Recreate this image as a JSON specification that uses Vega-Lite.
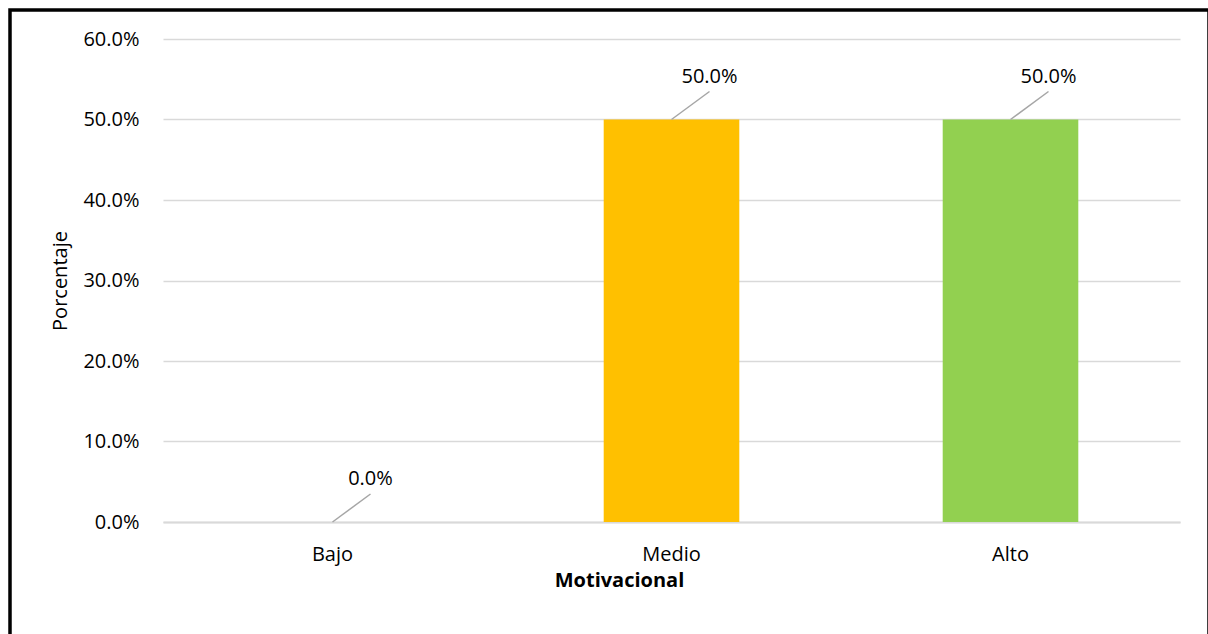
{
  "$schema": "https://vega.github.io/schema/vega-lite/v6.json",
  "width": 1199,
  "height": 630,
  "autosize": {"type": "none"},
  "padding": {"left": 10, "top": 10, "right": 0, "bottom": 0},
  "background": "white",
  "config": {
    "view": {"stroke": "#000000", "strokeWidth": 3.5},
    "font": "Open Sans",
    "axis": {
      "labelFont": "Open Sans",
      "titleFont": "Open Sans",
      "labelFontSize": 20,
      "titleFontSize": 20,
      "labelColor": "#000000",
      "titleColor": "#000000",
      "ticks": false
    }
  },
  "data": {
    "values": [
      {"nivel": "Bajo", "pct": 0.0},
      {"nivel": "Medio", "pct": 0.5},
      {"nivel": "Alto", "pct": 0.5}
    ]
  },
  "encoding": {
    "x": {
      "field": "nivel",
      "type": "nominal",
      "sort": ["Bajo", "Medio", "Alto"],
      "scale": {"paddingInner": 0.6, "paddingOuter": 0.3, "range": [153, 1170]},
      "title": "Motivacional",
      "axis": {
        "labelAngle": 0,
        "labelPadding": 22,
        "offset": -118,
        "titleFontWeight": "bold",
        "titlePadding": 6,
        "titleX": 609,
        "domainColor": "#d9d9d9",
        "domainWidth": 2,
        "grid": false
      }
    },
    "y": {
      "field": "pct",
      "type": "quantitative",
      "scale": {"domain": [0, 0.6], "range": [512, 29]},
      "title": "Porcentaje",
      "axis": {
        "format": ".1%",
        "values": [0, 0.1, 0.2, 0.3, 0.4, 0.5, 0.6],
        "labelPadding": 24,
        "titlePadding": 12,
        "offset": -153,
        "titleFontWeight": "normal",
        "domain": false,
        "gridColor": "#d9d9d9",
        "gridWidth": 1.5
      }
    }
  },
  "layer": [
    {
      "mark": {"type": "bar"},
      "encoding": {
        "color": {
          "field": "nivel",
          "type": "nominal",
          "scale": {"domain": ["Bajo", "Medio", "Alto"], "range": ["#5B9BD5", "#FFC000", "#92D050"]},
          "legend": null
        }
      }
    },
    {
      "mark": {
        "type": "point",
        "shape": "M-1,0.737L1,-0.737",
        "size": 1444,
        "filled": false,
        "color": "#a6a6a6",
        "strokeWidth": 1.5,
        "opacity": 1,
        "xOffset": 19,
        "yOffset": -14
      }
    },
    {
      "mark": {
        "type": "text",
        "dx": 38,
        "dy": -37,
        "baseline": "alphabetic",
        "align": "center",
        "fontSize": 20,
        "font": "Open Sans",
        "color": "#000000"
      },
      "encoding": {"text": {"field": "pct", "type": "quantitative", "format": ".1%"}}
    }
  ]
}
